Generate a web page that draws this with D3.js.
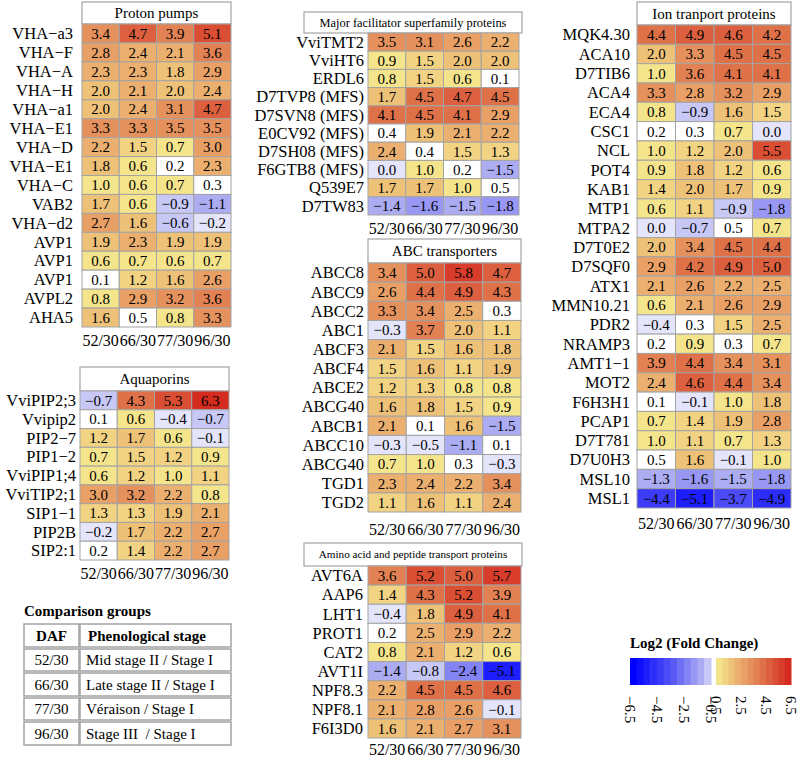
<!DOCTYPE html>
<html>
<head>
<meta charset="utf-8">
<script src="https://cdn.jsdelivr.net/npm/d3@7"></script>
<style>
  body { margin: 0; background: #fff; }
  svg { display: block; }
</style>
</head>
<body>
<svg width="800" height="759"></svg>
<script>
// comparisons (columns of every heatmap)
const comparisons = ["52/30", "66/30", "77/30", "96/30"];

// Proton pumps
const protonGenes = ["VHA−a3", "VHA−F", "VHA−A", "VHA−H", "VHA−a1", "VHA−E1", "VHA−D", "VHA−E1",
  "VHA−C", "VAB2", "VHA−d2", "AVP1", "AVP1", "AVP1", "AVPL2", "AHA5"];
const protonValues = [
  [3.4, 4.7, 3.9, 5.1], [2.8, 2.4, 2.1, 3.6], [2.3, 2.3, 1.8, 2.9], [2.0, 2.1, 2.0, 2.4],
  [2.0, 2.4, 3.1, 4.7], [3.3, 3.3, 3.5, 3.5], [2.2, 1.5, 0.7, 3.0], [1.8, 0.6, 0.2, 2.3],
  [1.0, 0.6, 0.7, 0.3], [1.7, 0.6, -0.9, -1.1], [2.7, 1.6, -0.6, -0.2], [1.9, 2.3, 1.9, 1.9],
  [0.6, 0.7, 0.6, 0.7], [0.1, 1.2, 1.6, 2.6], [0.8, 2.9, 3.2, 3.6], [1.6, 0.5, 0.8, 3.3]
];

// Aquaporins
const aquaGenes = ["VviPIP2;3", "Vvipip2", "PIP2−7", "PIP1−2", "VviPIP1;4", "VviTIP2;1", "SIP1−1", "PIP2B", "SIP2:1"];
const aquaValues = [
  [-0.7, 4.3, 5.3, 6.3], [0.1, 0.6, -0.4, -0.7], [1.2, 1.7, 0.6, -0.1], [0.7, 1.5, 1.2, 0.9],
  [0.6, 1.2, 1.0, 1.1], [3.0, 3.2, 2.2, 0.8], [1.3, 1.3, 1.9, 2.1], [-0.2, 1.7, 2.2, 2.7],
  [0.2, 1.4, 2.2, 2.7]
];

// Major facilitator superfamily
const mfsGenes = ["VviTMT2", "VviHT6", "ERDL6", "D7TVP8 (MFS)", "D7SVN8 (MFS)", "E0CV92 (MFS)",
  "D7SH08 (MFS)", "F6GTB8 (MFS)", "Q539E7", "D7TW83"];
const mfsValues = [
  [3.5, 3.1, 2.6, 2.2], [0.9, 1.5, 2.0, 2.0], [0.8, 1.5, 0.6, 0.1], [1.7, 4.5, 4.7, 4.5],
  [4.1, 4.5, 4.1, 2.9], [0.4, 1.9, 2.1, 2.2], [2.4, 0.4, 1.5, 1.3], [0.0, 1.0, 0.2, -1.5],
  [1.7, 1.7, 1.0, 0.5], [-1.4, -1.6, -1.5, -1.8]
];

// ABC transporters
const abcGenes = ["ABCC8", "ABCC9", "ABCC2", "ABC1", "ABCF3", "ABCF4", "ABCE2", "ABCG40", "ABCB1",
  "ABCC10", "ABCG40", "TGD1", "TGD2"];
const abcValues = [
  [3.4, 5.0, 5.8, 4.7], [2.6, 4.4, 4.9, 4.3], [3.3, 3.4, 2.5, 0.3], [-0.3, 3.7, 2.0, 1.1],
  [2.1, 1.5, 1.6, 1.8], [1.5, 1.6, 1.1, 1.9], [1.2, 1.3, 0.8, 0.8], [1.6, 1.8, 1.5, 0.9],
  [2.1, 0.1, 1.6, -1.5], [-0.3, -0.5, -1.1, 0.1], [0.7, 1.0, 0.3, -0.3], [2.3, 2.4, 2.2, 3.4],
  [1.1, 1.6, 1.1, 2.4]
];

// Amino acid and peptide transport proteins
const aminoGenes = ["AVT6A", "AAP6", "LHT1", "PROT1", "CAT2", "AVT1I", "NPF8.3", "NPF8.1", "F6I3D0"];
const aminoValues = [
  [3.6, 5.2, 5.0, 5.7], [1.4, 4.3, 5.2, 3.9], [-0.4, 1.8, 4.9, 4.1], [0.2, 2.5, 2.9, 2.2],
  [0.8, 2.1, 1.2, 0.6], [-1.4, -0.8, -2.4, -5.1], [2.2, 4.5, 4.5, 4.6], [2.1, 2.8, 2.6, -0.1],
  [1.6, 2.1, 2.7, 3.1]
];

// Ion transport proteins
const ionGenes = ["MQK4.30", "ACA10", "D7TIB6", "ACA4", "ECA4", "CSC1", "NCL", "POT4", "KAB1", "MTP1",
  "MTPA2", "D7T0E2", "D7SQF0", "ATX1", "MMN10.21", "PDR2", "NRAMP3", "AMT1−1", "MOT2", "F6H3H1",
  "PCAP1", "D7T781", "D7U0H3", "MSL10", "MSL1"];
const ionValues = [
  [4.4, 4.9, 4.6, 4.2], [2.0, 3.3, 4.5, 4.5], [1.0, 3.6, 4.1, 4.1], [3.3, 2.8, 3.2, 2.9],
  [0.8, -0.9, 1.6, 1.5], [0.2, 0.3, 0.7, 0.0], [1.0, 1.2, 2.0, 5.5], [0.9, 1.8, 1.2, 0.6],
  [1.4, 2.0, 1.7, 0.9], [0.6, 1.1, -0.9, -1.8], [0.0, -0.7, 0.5, 0.7], [2.0, 3.4, 4.5, 4.4],
  [2.9, 4.2, 4.9, 5.0], [2.1, 2.6, 2.2, 2.5], [0.6, 2.1, 2.6, 2.9], [-0.4, 0.3, 1.5, 2.5],
  [0.2, 0.9, 0.3, 0.7], [3.9, 4.4, 3.4, 3.1], [2.4, 4.6, 4.4, 3.4], [0.1, -0.1, 1.0, 1.8],
  [0.7, 1.4, 1.9, 2.8], [1.0, 1.1, 0.7, 1.3], [0.5, 1.6, -0.1, 1.0], [-1.3, -1.6, -1.5, -1.8],
  [-4.4, -5.1, -3.7, -4.9]
];

// comparison table
const tableDaf = ["52/30", "66/30", "77/30", "96/30"];
const tableStage = ["Mid stage II / Stage I", "Late stage II / Stage I", "Véraison / Stage I", "Stage III  / Stage I"];

// legend ticks
const legendTicksNeg = [-6.5, -4.5, -2.5, -0.5];
const legendTicksPos = [0.5, 2.5, 4.5, 6.5];

const svg = d3.select("svg")
  .attr("font-family", "'Liberation Serif', 'DejaVu Serif', 'Times New Roman', serif");
const fmt = d3.format(".1f");
const gridColor = "#a3a3a3";

// 颜色：分段 0.5 一档
const warm = d3.scaleLinear()
  .domain([0.75, 2.25, 4.25, 6.25])
  .range(["#f4e48c", "#ebb070", "#df7149", "#d42b1f"]);
const cool = d3.scaleLinear()
  .domain([-6.25, -3.25, -1.25, -0.25])
  .range(["#0000ff", "#5a5af5", "#acacf3", "#e4e4fb"])
  .clamp(true);

function color(v) {
  if (v > 0.5 + 1e-9) {
    let bin = Math.ceil((v - 0.5) / 0.5 - 1e-9);
    return warm(0.5 + bin * 0.5 - 0.25);
  }
  if (v > 1e-9) return "#ffffff";
  let bin = Math.floor(-v / 0.5 - 1e-9);
  if (bin < 0) bin = 0;
  return cool(-0.25 - bin * 0.5);
}

function drawPanel(p) {
  const g = svg.append("g");
  const x = d3.scaleBand().domain(d3.range(comparisons.length)).range([p.x0, p.x1]);
  const y = d3.scaleBand().domain(d3.range(p.genes.length)).range([p.y0, p.y1]);

  // title box
  g.append("rect")
    .attr("x", p.tx0).attr("y", p.ty0)
    .attr("width", p.tx1 - p.tx0).attr("height", p.ty1 - p.ty0)
    .attr("fill", "#fff").attr("stroke", gridColor).attr("stroke-width", 1.2);
  g.append("text")
    .attr("x", (p.tx0 + p.tx1) / 2).attr("y", (p.ty0 + p.ty1) / 2)
    .attr("dy", "0.35em").attr("text-anchor", "middle")
    .attr("font-size", p.titleSize).text(p.title);

  const cells = [];
  p.values.forEach((row, i) => row.forEach((v, j) => cells.push({ i, j, v })));

  g.selectAll("rect.cell").data(cells).join("rect")
    .attr("class", "cell")
    .attr("x", d => x(d.j)).attr("y", d => y(d.i))
    .attr("width", x.bandwidth()).attr("height", y.bandwidth())
    .attr("fill", d => color(d.v))
    .attr("stroke", gridColor).attr("stroke-width", 1);

  g.selectAll("text.val").data(cells).join("text")
    .attr("class", "val")
    .attr("x", d => x(d.j) + x.bandwidth() / 2)
    .attr("y", d => y(d.i) + y.bandwidth() / 2)
    .attr("dy", "0.35em").attr("text-anchor", "middle")
    .attr("font-size", 15)
    .text(d => fmt(d.v));

  // 行标签
  g.selectAll("text.gene").data(p.genes).join("text")
    .attr("class", "gene")
    .attr("x", p.x0 - p.gap)
    .attr("y", (d, i) => y(i) + y.bandwidth() / 2)
    .attr("dy", "0.35em").attr("text-anchor", "end")
    .attr("font-size", 16.5)
    .text(d => d);

  // 列标签
  g.selectAll("text.col").data(comparisons).join("text")
    .attr("class", "col")
    .attr("x", (d, j) => x(j) + x.bandwidth() / 2)
    .attr("y", p.labelY)
    .attr("text-anchor", "middle")
    .attr("font-size", 16)
    .text(d => d);
}

const panels = [
  { title: "Proton pumps", genes: protonGenes, values: protonValues, titleSize: 15,
    tx0: 82, tx1: 231, ty0: 2, ty1: 24, x0: 82, x1: 231, y0: 24, y1: 327, gap: 9, labelY: 346 },
  { title: "Aquaporins", genes: aquaGenes, values: aquaValues, titleSize: 15,
    tx0: 80, tx1: 229, ty0: 367, ty1: 391, x0: 80, x1: 229, y0: 391, y1: 560, gap: 4, labelY: 579 },
  { title: "Major facilitator superfamily proteins", genes: mfsGenes, values: mfsValues, titleSize: 12.4,
    tx0: 304, tx1: 522, ty0: 12, ty1: 33, x0: 368, x1: 519, y0: 33, y1: 215, gap: 4, labelY: 234 },
  { title: "ABC transporters", genes: abcGenes, values: abcValues, titleSize: 15,
    tx0: 368, tx1: 521, ty0: 239, ty1: 263, x0: 368, x1: 521, y0: 263, y1: 512, gap: 4, labelY: 535 },
  { title: "Amino acid and peptide transport proteins", genes: aminoGenes, values: aminoValues, titleSize: 11.2,
    tx0: 304, tx1: 522, ty0: 543, ty1: 566, x0: 368, x1: 521, y0: 566, y1: 738, gap: 5, labelY: 755 },
  { title: "Ion tranport proteins", genes: ionGenes, values: ionValues, titleSize: 15,
    tx0: 637, tx1: 791, ty0: 2, ty1: 25, x0: 637, x1: 791, y0: 25, y1: 508, gap: 7, labelY: 529 }
];
panels.forEach(drawPanel);

// Comparison groups table
{
  const tg = svg.append("g");
  tg.append("text").attr("x", 24).attr("y", 616)
    .attr("font-size", 15).attr("font-weight", "bold").text("Comparison groups");
  const rowsY = [623, 648, 672, 697, 721, 746];
  const header = [["DAF", "Phenological stage"]].concat(tableDaf.map((d, i) => [d, tableStage[i]]));
  header.forEach((r, i) => {
    const y0 = rowsY[i] + 1, y1 = rowsY[i + 1] - 1;
    tg.append("rect").attr("x", 24).attr("y", y0).attr("width", 55).attr("height", y1 - y0)
      .attr("fill", "#fff").attr("stroke", gridColor).attr("stroke-width", 1.5);
    tg.append("rect").attr("x", 80).attr("y", y0).attr("width", 151).attr("height", y1 - y0)
      .attr("fill", "#fff").attr("stroke", gridColor).attr("stroke-width", 1.5);
    tg.append("text").attr("x", 51.5).attr("y", (y0 + y1) / 2).attr("dy", "0.35em")
      .attr("text-anchor", "middle").attr("font-size", 15)
      .attr("font-weight", i == 0 ? "bold" : null).text(r[0]);
    tg.append("text").attr("x", i == 0 ? 88 : 86).attr("y", (y0 + y1) / 2).attr("dy", "0.35em")
      .attr("font-size", 15).attr("font-weight", i == 0 ? "bold" : null)
      .style("white-space", "pre").text(r[1]);
  });
}

// Legend
{
  const lg = svg.append("g");
  lg.append("text").attr("x", 630).attr("y", 648)
    .attr("font-size", 15).attr("font-weight", "bold").text("Log2 (Fold Change)");
  const xNeg = d3.scaleLinear().domain([-6.5, -0.5]).range([630, 711]);
  const xPos = d3.scaleLinear().domain([0.5, 6.5]).range([716, 791]);
  const negSteps = d3.range(12).map(i => -6.5 + i * 0.5);
  const posSteps = d3.range(12).map(i => 0.5 + i * 0.5);
  lg.selectAll("rect.neg").data(negSteps).join("rect")
    .attr("x", d => xNeg(d)).attr("y", 658)
    .attr("width", xNeg(0.5) - xNeg(0) + 0.5).attr("height", 27)
    .attr("fill", d => d > -0.6 ? "#f4f4fe" : cool(d + 0.25));
  lg.selectAll("rect.pos").data(posSteps).join("rect")
    .attr("x", d => xPos(d)).attr("y", 658)
    .attr("width", xPos(1) - xPos(0.5) + 0.5).attr("height", 27)
    .attr("fill", d => warm(d + 0.25));
  const ticks = legendTicksNeg.map(v => ({ v, x: xNeg(v) }))
    .concat(legendTicksPos.map(v => ({ v, x: xPos(v) })));
  lg.selectAll("text.tick").data(ticks).join("text")
    .attr("transform", d => `translate(${d.x},696) rotate(90)`)
    .attr("dy", "0.35em")
    .attr("font-size", 15)
    .text(d => fmt(d.v));
}
</script>
</body>
</html>
